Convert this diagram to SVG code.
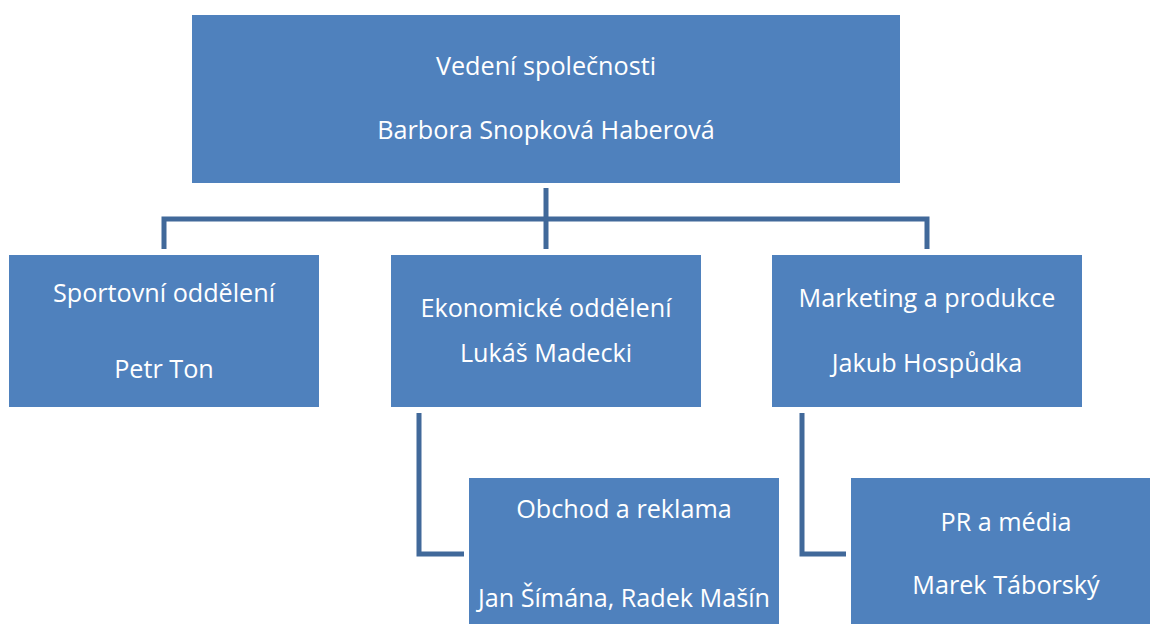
<svg xmlns="http://www.w3.org/2000/svg" width="1150" height="624" viewBox="0 0 1150 624">
<style>
.box{fill:#4f81bd;}
.conn{fill:none;stroke:#41699a;stroke-width:5;stroke-linejoin:miter;stroke-linecap:butt;}
text{font-family:"Open Sans","Noto Sans","Liberation Sans",sans-serif;font-size:25.2px;fill:#ffffff;text-anchor:middle;}
</style>
<rect width="1150" height="624" fill="#ffffff"/>
<g id="connectors">
<path class="conn" d="M546,188 V249"/>
<path class="conn" d="M164,249 V219 H927 V249"/>
<path class="conn" d="M419,413 V554 H464"/>
<path class="conn" d="M802,413 V554 H846"/>
</g>
<g id="node-vedeni">
<rect class="box" x="192" y="15" width="708" height="168"/>
<text x="546" y="75">Vedení společnosti</text>
<text x="546" y="139">Barbora Snopková Haberová</text>
</g>
<g id="node-sport">
<rect class="box" x="9" y="255" width="310" height="152"/>
<text x="164" y="302">Sportovní oddělení</text>
<text x="164" y="378">Petr Ton</text>
</g>
<g id="node-ekonom">
<rect class="box" x="391" y="255" width="310" height="152"/>
<text x="546" y="317">Ekonomické oddělení</text>
<text x="546" y="362">Lukáš Madecki</text>
</g>
<g id="node-marketing">
<rect class="box" x="772" y="255" width="310" height="152"/>
<text x="927" y="307">Marketing a produkce</text>
<text x="927" y="372">Jakub Hospůdka</text>
</g>
<g id="node-obchod">
<rect class="box" x="469" y="478" width="310" height="152"/>
<text x="624" y="518">Obchod a reklama</text>
<text x="624" y="607">Jan Šímána, Radek Mašín</text>
</g>
<g id="node-pr">
<rect class="box" x="851" y="478" width="310" height="152"/>
<text x="1006" y="531">PR a média</text>
<text x="1006" y="594">Marek Táborský</text>
</g>
</svg>
